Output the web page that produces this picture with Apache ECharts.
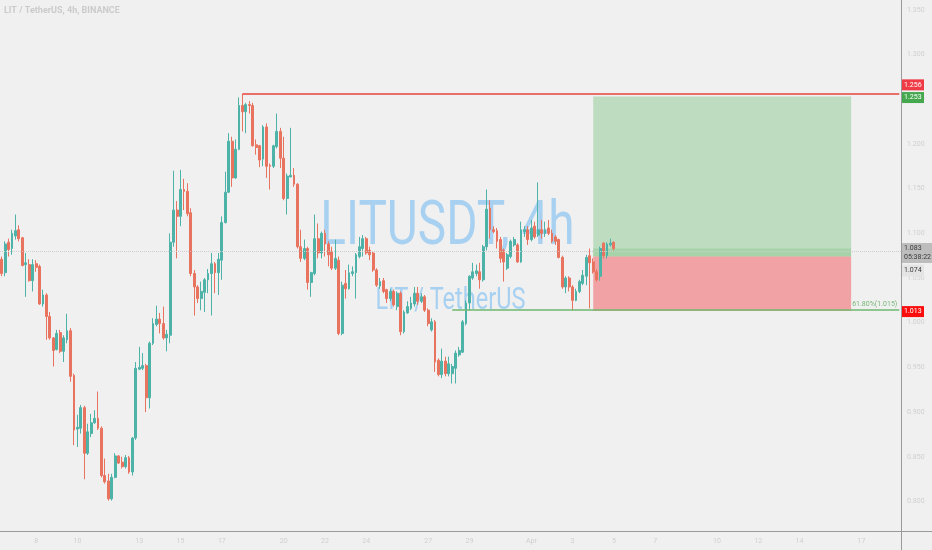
<!DOCTYPE html>
<html lang="en">
<head>
<meta charset="UTF-8">
<title>LITUSDT, 4h</title>
<script src="https://cdn.jsdelivr.net/npm/echarts@6/dist/echarts.min.js"></script>
<style>
    html, body { margin: 0; padding: 0; background: #f0f0f0; }
    #chart { width: 932px; height: 550px; }
</style>
</head>
<body>
<div id="chart"></div>
<script>
    // 4h candles: [open, close, low, high]
    const candles = [
        [1.071, 1.055, 1.052, 1.074], [1.056, 1.088, 1.052, 1.091], [1.090, 1.082, 1.074, 1.094], [1.083, 1.100, 1.076, 1.104],
        [1.097, 1.103, 1.093, 1.121], [1.104, 1.094, 1.091, 1.109], [1.095, 1.064, 1.063, 1.096], [1.065, 1.067, 1.029, 1.078],
        [1.065, 1.047, 1.046, 1.071], [1.047, 1.065, 1.035, 1.071], [1.066, 1.062, 1.057, 1.070], [1.063, 1.021, 1.020, 1.065],
        [1.021, 1.031, 1.018, 1.037], [1.031, 1.007, 0.981, 1.033], [1.007, 0.983, 0.981, 1.012], [0.983, 0.969, 0.951, 0.984],
        [0.970, 0.988, 0.969, 0.992], [0.989, 0.968, 0.966, 0.992], [0.968, 0.983, 0.956, 0.986], [0.981, 0.991, 0.977, 1.010],
        [0.991, 0.940, 0.934, 0.994], [0.941, 0.880, 0.863, 0.943], [0.881, 0.883, 0.861, 0.897], [0.882, 0.905, 0.876, 0.908],
        [0.905, 0.854, 0.825, 0.907], [0.854, 0.878, 0.852, 0.887], [0.876, 0.888, 0.872, 0.898], [0.888, 0.893, 0.887, 0.902],
        [0.893, 0.882, 0.880, 0.923], [0.882, 0.829, 0.827, 0.884], [0.829, 0.822, 0.820, 0.848], [0.823, 0.803, 0.801, 0.831],
        [0.803, 0.827, 0.801, 0.831], [0.827, 0.851, 0.826, 0.854], [0.851, 0.843, 0.842, 0.852], [0.844, 0.839, 0.837, 0.850],
        [0.839, 0.849, 0.837, 0.852], [0.849, 0.833, 0.831, 0.851], [0.833, 0.871, 0.829, 0.872], [0.871, 0.949, 0.869, 0.956],
        [0.948, 0.950, 0.947, 0.973], [0.949, 0.952, 0.947, 0.966], [0.952, 0.916, 0.900, 0.954], [0.916, 0.977, 0.904, 0.979],
        [0.977, 0.999, 0.975, 1.005], [0.998, 1.004, 0.996, 1.019], [1.004, 0.999, 0.988, 1.011], [0.999, 0.983, 0.981, 1.018],
        [0.983, 0.987, 0.968, 0.992], [0.986, 1.090, 0.977, 1.100], [1.090, 1.126, 1.085, 1.170], [1.126, 1.119, 1.072, 1.136],
        [1.119, 1.149, 1.108, 1.171], [1.149, 1.147, 1.126, 1.161], [1.147, 1.122, 1.119, 1.156], [1.123, 1.055, 1.052, 1.128],
        [1.055, 1.040, 1.008, 1.059], [1.040, 1.027, 1.022, 1.042], [1.027, 1.035, 1.014, 1.046], [1.034, 1.048, 1.012, 1.050],
        [1.048, 1.055, 1.033, 1.060], [1.055, 1.066, 1.008, 1.078], [1.066, 1.056, 1.033, 1.068], [1.056, 1.071, 1.031, 1.078],
        [1.070, 1.112, 1.048, 1.119], [1.112, 1.146, 1.111, 1.169], [1.146, 1.203, 1.145, 1.212], [1.203, 1.162, 1.152, 1.208],
        [1.162, 1.194, 1.161, 1.205], [1.194, 1.243, 1.193, 1.252], [1.243, 1.236, 1.214, 1.256], [1.236, 1.244, 1.212, 1.246],
        [1.244, 1.243, 1.234, 1.248], [1.243, 1.198, 1.197, 1.246], [1.199, 1.196, 1.188, 1.205], [1.198, 1.182, 1.174, 1.199],
        [1.183, 1.219, 1.175, 1.221], [1.219, 1.175, 1.162, 1.223], [1.176, 1.175, 1.149, 1.178], [1.175, 1.198, 1.173, 1.199],
        [1.197, 1.214, 1.195, 1.234], [1.214, 1.184, 1.173, 1.218], [1.184, 1.139, 1.137, 1.208], [1.139, 1.164, 1.121, 1.167],
        [1.163, 1.165, 1.163, 1.218], [1.165, 1.155, 1.152, 1.173], [1.155, 1.085, 1.083, 1.156], [1.085, 1.072, 1.068, 1.104],
        [1.072, 1.083, 1.070, 1.093], [1.083, 1.045, 1.037, 1.085], [1.045, 1.056, 1.029, 1.057], [1.055, 1.094, 1.053, 1.121],
        [1.094, 1.078, 1.072, 1.111], [1.078, 1.100, 1.072, 1.102], [1.100, 1.088, 1.074, 1.104], [1.088, 1.076, 1.063, 1.091],
        [1.080, 1.061, 1.059, 1.085], [1.061, 1.072, 1.059, 1.093], [1.070, 0.988, 0.986, 1.074], [0.988, 1.042, 0.986, 1.046],
        [1.044, 1.038, 1.027, 1.059], [1.038, 1.056, 1.037, 1.065], [1.055, 1.057, 1.052, 1.063], [1.056, 1.076, 1.027, 1.078],
        [1.074, 1.085, 1.072, 1.096], [1.083, 1.094, 1.074, 1.098], [1.094, 1.078, 1.076, 1.096], [1.081, 1.076, 1.070, 1.085],
        [1.078, 1.059, 1.057, 1.080], [1.059, 1.042, 1.040, 1.061], [1.041, 1.046, 1.038, 1.050], [1.047, 1.035, 1.033, 1.050],
        [1.037, 1.027, 1.022, 1.038], [1.027, 1.035, 1.024, 1.038], [1.035, 1.020, 1.018, 1.037], [1.018, 1.033, 1.014, 1.035],
        [1.033, 0.990, 0.986, 1.035], [0.990, 1.012, 0.988, 1.014], [1.011, 1.018, 1.010, 1.024], [1.016, 1.022, 1.014, 1.029],
        [1.021, 1.033, 1.018, 1.040], [1.033, 1.024, 1.020, 1.040], [1.024, 1.029, 1.022, 1.033], [1.029, 1.014, 1.012, 1.031],
        [1.014, 0.999, 0.996, 1.016], [0.992, 1.001, 0.990, 1.005], [1.001, 0.956, 0.945, 1.003], [0.958, 0.942, 0.940, 0.960],
        [0.942, 0.957, 0.938, 0.971], [0.957, 0.943, 0.940, 0.962], [0.943, 0.954, 0.940, 0.962], [0.943, 0.951, 0.932, 0.954],
        [0.949, 0.966, 0.932, 0.969], [0.964, 0.969, 0.962, 0.973], [0.967, 1.001, 0.966, 1.003], [0.999, 1.022, 0.997, 1.025],
        [1.022, 1.052, 1.014, 1.053], [1.050, 1.057, 1.048, 1.067], [1.055, 1.058, 1.052, 1.065], [1.057, 1.048, 1.038, 1.067],
        [1.048, 1.085, 1.046, 1.087], [1.085, 1.127, 1.081, 1.149], [1.128, 1.104, 1.094, 1.137], [1.104, 1.102, 1.100, 1.108],
        [1.103, 1.091, 1.083, 1.106], [1.093, 1.072, 1.067, 1.096], [1.081, 1.068, 1.046, 1.083], [1.061, 1.076, 1.059, 1.078],
        [1.074, 1.091, 1.072, 1.093], [1.087, 1.093, 1.085, 1.096], [1.087, 1.068, 1.067, 1.089], [1.068, 1.104, 1.067, 1.113],
        [1.102, 1.104, 1.096, 1.108], [1.104, 1.093, 1.087, 1.108], [1.093, 1.106, 1.091, 1.115], [1.108, 1.096, 1.094, 1.113],
        [1.098, 1.104, 1.096, 1.157], [1.104, 1.100, 1.094, 1.115], [1.100, 1.104, 1.096, 1.113], [1.106, 1.100, 1.098, 1.115],
        [1.100, 1.091, 1.089, 1.104], [1.096, 1.091, 1.087, 1.098], [1.093, 1.073, 1.072, 1.094], [1.073, 1.040, 1.038, 1.075],
        [1.040, 1.050, 1.033, 1.052], [1.050, 1.040, 1.035, 1.052], [1.040, 1.025, 1.014, 1.042], [1.025, 1.035, 1.024, 1.038],
        [1.035, 1.046, 1.033, 1.048], [1.044, 1.053, 1.042, 1.059], [1.052, 1.073, 1.042, 1.076], [1.075, 1.067, 1.016, 1.083],
        [1.068, 1.057, 1.055, 1.072], [1.057, 1.048, 1.046, 1.060], [1.052, 1.083, 1.047, 1.085], [1.089, 1.075, 1.072, 1.090],
        [1.075, 1.088, 1.072, 1.090], [1.087, 1.089, 1.085, 1.094], [1.090, 1.083, 1.081, 1.091]
    ];
    const futureBars = 83;                         // empty bars to the right of the last candle
    const firstBarUtc = Date.UTC(2022, 2, 6, 8);   // first 4h bar

    // bottom axis labels (bar index -> text)
    const dateLabelIndex = [10, 22, 40, 52, 64, 82, 94, 106, 124, 136, 154, 166, 178, 190, 208, 220, 232, 250];
    const dateLabelText = ['8', '10', '13', '15', '17', '20', '22', '24', '27', '29', 'Apr', '3', '5', '7', '10', '12', '14', '17'];

    // right axis
    const priceTicks = [0.80, 0.85, 0.90, 0.95, 1.00, 1.05, 1.10, 1.15, 1.20, 1.25, 1.30, 1.35];
    const priceMin = 0.767;
    const priceMax = 1.361;

    // drawings
    const highPrice = 1.256, highFromBar = 70;
    const targetPrice = 1.253, entryPrice = 1.074, stopPrice = 1.013, lastPrice = 1.083;
    const fibPrice = 1.015, fibFromBar = 131, fibText = '61.80%(1.015)';
    const positionFromBar = 172, positionToBar = 247;
    const countdown = '05:38:22';

    const N = candles.length + futureBars;
    const categories = [];
    for (let i = 0; i < N; i++) {
        categories.push(new Date(firstBarUtc + i * 4 * 3600 * 1000).toISOString().slice(0, 16).replace('T', ' '));
    }
    const seriesData = candles.concat(new Array(futureBars).fill('-'));

    const gridL = 0, gridR = 31, gridT = 0, gridB = 19;
    const W = 932, H = 550;
    const axisX = W - gridR, axisY = H - gridB;

    const chart = echarts.init(document.getElementById('chart'));
    chart.setOption({
        backgroundColor: '#f0f0f0',
        animation: false,
        grid: {left: gridL, right: gridR, top: gridT, bottom: gridB},
        xAxis: {
            type: 'category',
            data: categories,
            boundaryGap: true,
            axisLine: {show: false},
            axisTick: {show: false},
            splitLine: {show: false},
            axisLabel: {
                interval: (i) => dateLabelIndex.includes(i),
                formatter: (v, i) => dateLabelText[dateLabelIndex.indexOf(i)] || '',
                color: '#cfcfcf', fontSize: 7, fontFamily: 'Roboto', margin: 7
            }
        },
        yAxis: {
            type: 'value',
            position: 'right',
            min: priceMin,
            max: priceMax,
            scale: true,
            axisLine: {show: false},
            axisTick: {show: false},
            splitLine: {show: false},
            axisLabel: {
                customValues: priceTicks,
                formatter: (v) => v.toFixed(3),
                color: '#cfcfcf', fontSize: 7, fontFamily: 'Roboto', margin: 6
            }
        },
        series: [{
            type: 'candlestick',
            data: seriesData,
            barWidth: '68%',
            itemStyle: {
                color: '#4db3a8', color0: '#e8735f',
                borderColor: '#4db3a8', borderColor0: '#e8735f', borderWidth: 1
            },
            markArea: {
                silent: true,
                data: [
                    [{coord: [positionFromBar, targetPrice], itemStyle: {color: 'rgba(76,175,80,0.30)'}},
                        {coord: [positionToBar, entryPrice]}],
                    [{coord: [positionFromBar, lastPrice], itemStyle: {color: 'rgba(76,175,80,0.20)'}},
                        {coord: [positionToBar, entryPrice]}],
                    [{coord: [positionFromBar, entryPrice], itemStyle: {color: 'rgba(242,54,60,0.42)'}},
                        {coord: [positionToBar, stopPrice]}]
                ]
            },
            markLine: {
                silent: true,
                symbol: 'none',
                label: {show: false},
                data: [
                    {yAxis: lastPrice, lineStyle: {color: '#cdcdcd', type: 'dotted', width: 1}},
                    [{coord: [highFromBar, highPrice], lineStyle: {color: '#e8443f', type: 'solid', width: 1.5}},
                        {coord: [N - 1, highPrice]}],
                    [{coord: [fibFromBar, fibPrice], lineStyle: {color: '#6fb96f', type: 'solid', width: 1.5},
                        label: {show: true, position: 'insideEndTop', formatter: fibText, color: '#78b878',
                            fontSize: 7, fontFamily: 'Roboto', distance: 2}},
                        {coord: [N - 1, fibPrice]}]
                ]
            }
        }]
    });

    // price badges on the right axis, placed through the y scale
    const py = (p) => chart.convertToPixel({yAxisIndex: 0}, p);
    const badges = [
        {price: highPrice, text: highPrice.toFixed(3), bg: '#ef3b46', fg: '#ffffff', dy: -9, h: 11},
        {price: targetPrice, text: targetPrice.toFixed(3), bg: '#45a84f', fg: '#ffffff', dy: 1, h: 11},
        {price: lastPrice, text: lastPrice.toFixed(3) + '\n' + countdown, bg: '#bdbdbd', fg: '#3a3a3a', dy: 4.5, h: 20},
        {price: entryPrice, text: entryPrice.toFixed(3), bg: '#e4e4e4', fg: '#3a3a3a', dy: 14, h: 12},
        {price: stopPrice, text: stopPrice.toFixed(3), bg: '#fb0d0d', fg: '#ffffff', dy: 0.5, h: 11}
    ];
    const graphics = [
        {type: 'text', x: 4, y: 11, z: 0, style: {text: 'LIT / TetherUS, 4h, BINANCE', fill: '#cbcbcb',
                font: 'bold 9px Roboto', textVerticalAlign: 'middle'}},
        {type: 'text', x: (axisX + gridL) / 2 - 3, y: 228, scaleX: 0.77, z: 0,
            style: {text: 'LITUSDT, 4h', fill: '#a8d1f1', font: '62px Roboto', textAlign: 'center', textVerticalAlign: 'middle'}},
        {type: 'text', x: (axisX + gridL) / 2, y: 301, scaleX: 0.76, z: 0,
            style: {text: 'LIT / TetherUS', fill: '#a8d1f1', font: '31px Roboto', textAlign: 'center', textVerticalAlign: 'middle'}},
        {type: 'line', z: 50, shape: {x1: axisX + 0.5, y1: 0, x2: axisX + 0.5, y2: H}, style: {stroke: '#9a9a9a', lineWidth: 1}},
        {type: 'line', z: 50, shape: {x1: 0, y1: axisY + 0.5, x2: W, y2: axisY + 0.5}, style: {stroke: '#9a9a9a', lineWidth: 1}}
    ];
    badges.forEach(b => {
        const cy = py(b.price) + b.dy;
        graphics.push({
            type: 'rect', z: 100,
            shape: {x: axisX + 1, y: cy - b.h / 2, width: b.h > 15 ? 30 : 22, height: b.h},
            style: {fill: b.bg}
        });
        graphics.push({
            type: 'text', z: 101, x: axisX + 3, y: cy,
            style: {text: b.text, fill: b.fg, font: '7px Roboto', textVerticalAlign: 'middle', lineHeight: 9}
        });
    });
    chart.setOption({graphic: graphics});
</script>
</body>
</html>
